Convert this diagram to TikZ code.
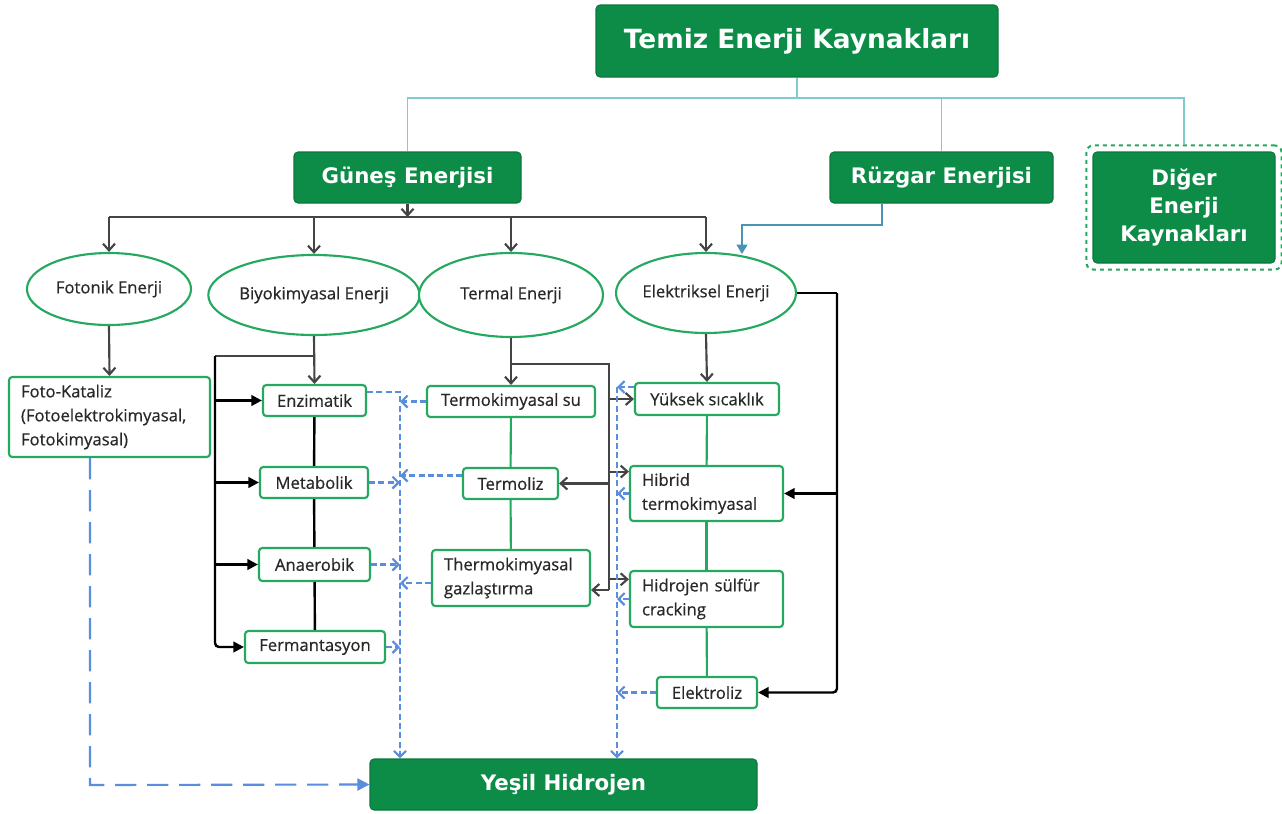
\documentclass[tikz,border=0pt]{standalone}
\usepackage{fontspec}
\setmainfont{Open Sans}[FakeBold=0.6]
\newfontfamily\headfont{DejaVu Sans}
\newfontfamily\kutufont{Open Sans}[FakeBold=0.6]
\usetikzlibrary{arrows.meta, shapes.geometric, fit}
\definecolor{koyuyesil}{RGB}{13,140,71}
\definecolor{cizgiyesil}{RGB}{37,168,95}
\definecolor{acikmavi}{RGB}{126,204,204}
\definecolor{ruzgarmavi}{RGB}{72,148,180}
\definecolor{mavi}{RGB}{91,141,222}
\definecolor{gri}{RGB}{68,68,68}
\definecolor{yazi}{RGB}{40,40,40}

\begin{document}
\begin{tikzpicture}[x=0.75pt, y=-0.75pt,
    baslik/.style={draw=koyuyesil!85!black, fill=koyuyesil, rounded corners=3pt, line width=0.8pt,
        text=white, align=center, inner sep=0pt, font=\headfont\bfseries\fontsize{16}{21}\selectfont},
    enerji/.style={ellipse, draw=cizgiyesil, line width=1.6pt, fill=white, inner sep=0pt,
        text=yazi, font=\kutufont\fontsize{12.5}{18}\selectfont},
    kutu/.style={draw=cizgiyesil, line width=1.6pt, rounded corners=2.5pt, fill=white, inner sep=0pt,
        text=yazi, font=\kutufont\fontsize{12.5}{18}\selectfont},
    kutuL/.style={kutu, align=left, inner xsep=9pt},
    yesilcizgi/.style={draw=cizgiyesil, line width=1.6pt},
    acik/.style={draw=acikmavi, line width=1.3pt},
    gricizgi/.style={draw=gri, line width=1.6pt},
    griok/.style={gricizgi, -{Straight Barb[length=5pt,width=9pt]}},
    siyahcizgi/.style={draw=black, line width=1.8pt},
    siyahok/.style={siyahcizgi, -{Triangle[length=8pt,width=8pt]}},
    ruzgarok/.style={draw=ruzgarmavi, line width=1.5pt, -{Triangle[length=7pt,width=8pt]}},
    mavicizgi/.style={draw=mavi, line width=1.6pt, dash pattern=on 4.5pt off 2.5pt},
    maviok/.style={mavicizgi, -{Straight Barb[length=4.5pt,width=9pt]}},
    uzunmavi/.style={draw=mavi, line width=1.6pt, dash pattern=on 16pt off 8pt, -{Triangle[length=9pt,width=9pt]}}]

    \useasboundingbox (0,0) rectangle (1282,814);

    \node[baslik, minimum width=301.5pt, minimum height=54pt, font=\headfont\bfseries\fontsize{19.8}{24}\selectfont] (top) at (797,41) {Temiz Enerji Kaynakları};
    \node[baslik, minimum width=170.25pt, minimum height=38.25pt] (sun) at (407.5,177.5) {Güneş Enerjisi};
    \node[baslik, minimum width=167.25pt, minimum height=38.25pt] (wind) at (941.5,177.5) {Rüzgar Enerjisi};
    \node[baslik, minimum width=136.5pt, minimum height=83.25pt] (other) at (1184,207.5) {Diğer\\Enerji\\Kaynakları};
    \node[draw=cizgiyesil, dashed, line width=1.5pt, rounded corners=5pt, fit=(other), inner sep=4.5pt] (otherfr) {};
    \node[baslik, minimum width=290.25pt, minimum height=38.25pt] (h2) at (563.5,784.5) {Yeşil Hidrojen};

    \node[enerji, minimum width=123pt, minimum height=54pt] (fot) at (109,289) {Fotonik Enerji};
    \node[enerji, minimum width=135pt, minimum height=60pt] (bio) at (314,295) {Biyokimyasal Enerji};
    \node[enerji, minimum width=138pt, minimum height=63pt] (ter) at (511,295) {Termal Enerji};
    \node[enerji, minimum width=135pt, minimum height=60pt] (ele) at (706,293) {Elektriksel Enerji};

    \node[kutuL, text width=132.75pt, minimum height=60pt] (foto) at (109.5,417) {Foto-Kataliz\\(Fotoelektrokimyasal,\\Fotokimyasal)};
    \node[kutu, minimum width=77.25pt, minimum height=23.25pt] (enz) at (314.5,400.5) {Enzimatik};
    \node[kutu, minimum width=81pt, minimum height=23.25pt] (met) at (314,482.5) {Metabolik};
    \node[kutu, minimum width=83.25pt, minimum height=24.75pt] (ana) at (314.5,564.5) {Anaerobik};
    \node[kutu, minimum width=105pt, minimum height=24pt] (fer) at (315,647) {Fermantasyon};
    \node[kutu, minimum width=126pt, minimum height=23.25pt] (tsu) at (511,401.5) {Termokimyasal su};
    \node[kutu, minimum width=71.25pt, minimum height=23.25pt] (tml) at (510.5,483.5) {Termoliz};
    \node[kutuL, text width=100.5pt, minimum height=42pt] (tgz) at (511,578) {Thermokimyasal\\gazlaştırma};
    \node[kutu, minimum width=108pt, minimum height=24pt] (yuk) at (707,399) {Yüksek sıcaklık};
    \node[kutuL, text width=96.75pt, minimum height=41.25pt] (hib) at (706.5,493.5) {Hibrid\\termokimyasal};
    \node[kutuL, text width=96.75pt, minimum height=42pt] (hsc) at (706.5,599) {Hidrojen sülfür\\cracking};
    \node[kutu, minimum width=75pt, minimum height=23.25pt] (elz) at (707,692.5) {Elektroliz};

    \coordinate (tk1) at (797,98);
    \draw[acik] (top.south) -- (tk1);
    \draw[acik] (sun.north) |- (otherfr.north |- tk1) -- (otherfr.north);
    \draw[acik] (wind.north |- tk1) -- (wind.north);

    \coordinate (bus) at (409,217);
    \draw[griok] (sun.south) -- (sun.south |- bus);
    \draw[gricizgi] (fot.north |- bus) -- (ele.north |- bus);
    \foreach \e in {fot,bio,ter,ele}
        \draw[griok] (\e.north |- bus) -- (\e.north);

    \coordinate (rk) at (882,225);
    \coordinate (rg) at (742,254);
    \draw[ruzgarok] (wind.south -| rk) -- (rk) -| (rg);

    \draw[griok] (fot.south) -- (foto.north);
    \draw[griok] (bio.south) -- (enz.north);
    \draw[griok] (ter.south) -- (tsu.north);
    \draw[griok] (ele.south) -- (yuk.north);

    \coordinate (bk) at (314,356);
    \coordinate (bs) at (215,356);
    \draw[gricizgi] (bk) -- (bs);
    \draw[siyahok, rounded corners=3pt] (bs) |- (fer.west);
    \foreach \n in {enz,met,ana}
        \draw[siyahok] (bs |- \n.west) -- (\n.west);
    \draw[siyahcizgi] (enz) -- (met);
    \draw[siyahcizgi] (met) -- (ana);
    \draw[siyahcizgi] (ana) -- (fer);

    \coordinate (tk) at (511,364);
    \coordinate (tv) at (609,364);
    \coordinate (tb) at (609,590);
    \coordinate (hibIn) at ([yshift=-5pt]hib.north west);
    \coordinate (hscIn) at ([yshift=-7pt]hsc.north west);
    \draw[gricizgi] (tk) -- (tv) -- (tb);
    \draw[griok] (tb) -- (tb -| tgz.east);
    \draw[griok] (tv |- yuk.west) -- (yuk.west);
    \draw[griok] (tv |- hibIn) -- (hibIn);
    \draw[griok] (tv |- tml.east) -- (tml.east);
    \draw[griok] (tv |- hscIn) -- (hscIn);
    \draw[yesilcizgi] (tsu) -- (tml);
    \draw[yesilcizgi] (tml) -- (tgz);
    \draw[yesilcizgi] (yuk) -- (hib);
    \draw[yesilcizgi] (hib) -- (hsc);
    \draw[yesilcizgi] (hsc) -- (elz);

    \coordinate (ek) at (837,293);
    \draw[siyahcizgi] (ele.east) -- (ek);
    \draw[siyahok, rounded corners=3pt] (ek) |- (elz.east);
    \draw[siyahok] (ek |- hib.east) -- (hib.east);

    \coordinate (mavi1) at (400,392);
    \coordinate (mavi2) at (617,387);
    \coordinate (tmlOut) at ([yshift=6pt]tml.west);
    \coordinate (tgzOut) at ([yshift=-3.75pt]tgz.west);
    \draw[maviok] (enz.north east |- mavi1) -- (mavi1) -- (mavi1 |- h2.north);
    \draw[maviok] (tsu.west) -- (tsu.west -| mavi1);
    \draw[maviok] (met.east) -- (met.east -| mavi1);
    \draw[maviok] (tmlOut) -- (tmlOut -| mavi1);
    \draw[maviok] (ana.east) -- (ana.east -| mavi1);
    \draw[maviok] (tgzOut) -- (tgzOut -| mavi1);
    \draw[maviok] (fer.east) -- (fer.east -| mavi1);
    \draw[maviok] (yuk.north west |- mavi2) -- (mavi2);
    \draw[maviok] (mavi2) -- (mavi2 |- h2.north);
    \foreach \n in {hib,hsc,elz}
        \draw[maviok] (\n.west) -- (\n.west -| mavi2);

    \coordinate (fk) at (90,785);
    \draw[uzunmavi] (foto.south -| fk) -- (fk) -- (h2.west);
\end{tikzpicture}
\end{document}
